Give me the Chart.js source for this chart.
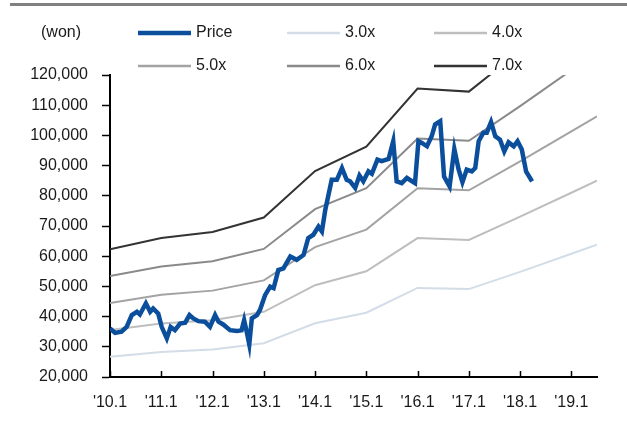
<!DOCTYPE html>
<html>
<head>
<meta charset="utf-8">
<script src="https://cdn.jsdelivr.net/npm/chart.js@4"></script>
<style>
  html, body { margin: 0; padding: 0; background: #fff; }
  #wrap { position: relative; width: 627px; height: 432px; }
  #topRule { position: absolute; left: 10px; right: 0; top: 3px; height: 3px; background: #808080; }
  canvas { position: absolute; left: 0; top: 0; }
</style>
</head>
<body>
<div id="wrap">
  <canvas id="bandChart" width="627" height="432"></canvas>
  <div id="topRule"></div>
</div>
<script>
// months counted from Jan 2010
const xTickMonths = [0, 12, 24, 36, 48, 60, 72, 84, 96, 108];
const xTickLabels = ["'10.1", "'11.1", "'12.1", "'13.1", "'14.1", "'15.1", "'16.1", "'17.1", "'18.1", "'19.1"];
const yTicks = [20000, 30000, 40000, 50000, 60000, 70000, 80000, 90000, 100000, 110000, 120000];

// band knots (yearly)
const bandMonths = [0, 12, 24, 36, 48, 60, 72, 84, 96, 108, 114];
const band3x = [26700, 28300, 29100, 31200, 37800, 41300, 49500, 49100, 54800, 60800, 63800];
const band4x = [35600, 37700, 38800, 41600, 50400, 55000, 66000, 65400, 73100, 81000, 85000];
const band5x = [44500, 47200, 48600, 52000, 63000, 68800, 82500, 81800, 91400, 101300, 106300];
const band6x = [53400, 56600, 58300, 62400, 75600, 82500, 99000, 98200, 109700, 121600, 127500];
const band7x = [62300, 66000, 68000, 72800, 88200, 96300, 115500, 114500, 128000, 141800, 148800];

// share price
const priceMonths = [0, 1.2, 2.7, 3.9, 5.1, 6.3, 7.0, 8.4, 9.4, 10.1, 11.3, 12.1, 13.3, 14.2, 15.2, 16.4, 17.6, 18.6, 19.5, 20.7,
  22.2, 23.4, 24.6, 25.4, 26.5, 28.1, 29.7, 30.8, 31.4, 32.0, 32.6, 33.2, 34.4, 35.1, 36.3, 37.5, 38.3, 39.4, 40.6, 42.2,
  43.7, 45.3, 46.4, 47.6, 48.8, 49.6, 50.4, 51.9, 53.1, 54.3, 55.4, 56.2, 57.4, 58.4, 59.3, 60.5, 61.3, 62.6, 63.6, 65.2,
  66.3, 67.1, 68.3, 69.5, 71.4, 72.2, 73.0, 74.2, 75.3, 76.1, 77.3, 78.2, 79.5, 80.6, 81.6, 82.5, 83.5, 84.7, 85.5, 86.3,
  87.4, 88.2, 89.2, 90.2, 91.3, 92.3, 93.3, 94.5, 95.4, 96.4, 97.4, 98.8];
const priceValues = [36100, 34600, 35000, 36600, 40500, 41600, 40700, 44400, 41600, 42700, 41000, 36600, 32800, 36600, 35500, 37700, 38000, 40500, 39400, 38500,
  38300, 36600, 40500, 38300, 37400, 35500, 35200, 35500, 38800, 35000, 30800, 39400, 40500, 42200, 47100, 49900, 49400, 55400, 56000, 59900,
  58800, 60400, 66000, 67100, 69800, 68200, 75400, 85300, 85300, 89200, 85300, 84800, 82600, 86700, 84800, 88100, 87300, 92000, 91500, 92200,
  98100, 84800, 84200, 85900, 84200, 98100, 97500, 96400, 99700, 103600, 104700, 86400, 83100, 95500, 88700, 84500, 88700, 88100, 89200, 98100,
  100900, 100900, 104400, 99700, 98600, 94700, 97700, 96400, 98100, 95300, 88100, 84800];

const toPoints = (xs, ys) => xs.map((x, i) => ({ x: x, y: ys[i] }));

const textColor = '#1a1a1a';
Chart.defaults.font.family = "'Liberation Sans', Arial, sans-serif";
Chart.defaults.font.size = 16;
Chart.defaults.color = textColor;

function band(label, ys, color) {
  return {
    label: label,
    data: toPoints(bandMonths, ys),
    borderColor: color,
    borderWidth: 2,
    pointRadius: 0,
    tension: 0,
    fill: false
  };
}

// legend grid + unit label + inner x ticks
const bandLegend = {
  id: 'bandLegend',
  afterDraw(chart) {
    const ctx = chart.ctx;
    const colX = [138, 287, 434];
    const rowY = [33, 66];
    ctx.save();
    ctx.font = "16px 'Liberation Sans', Arial, sans-serif";
    ctx.fillStyle = textColor;
    ctx.textBaseline = 'middle';
    ctx.textAlign = 'center';
    ctx.fillText('(won)', 61, 33);
    ctx.textAlign = 'left';
    chart.data.datasets.forEach((ds, i) => {
      const x0 = colX[i % 3];
      const y = rowY[Math.floor(i / 3)];
      ctx.strokeStyle = ds.borderColor;
      ctx.lineWidth = i === 0 ? 4.5 : 2.5;
      ctx.beginPath();
      ctx.moveTo(x0, y);
      ctx.lineTo(x0 + 53, y);
      ctx.stroke();
      ctx.fillStyle = textColor;
      ctx.fillText(ds.label, x0 + 58, y);
    });
    // x ticks point up into the plot
    const xs = chart.scales.x;
    const bottom = chart.chartArea.bottom;
    ctx.strokeStyle = '#000';
    ctx.lineWidth = 1.5;
    xTickMonths.forEach(m => {
      const px = Math.round(xs.getPixelForValue(m)) + 0.5;
      ctx.beginPath();
      ctx.moveTo(px, bottom);
      ctx.lineTo(px, bottom - 6);
      ctx.stroke();
    });
    ctx.restore();
  }
};

new Chart(document.getElementById('bandChart').getContext('2d'), {
  type: 'line',
  data: {
    datasets: [
      {
        label: 'Price',
        data: toPoints(priceMonths, priceValues),
        borderColor: '#0b4f9c',
        borderWidth: 4.5,
        pointRadius: 0,
        tension: 0,
        fill: false
      },
      band('3.0x', band3x, '#d3dde8'),
      band('4.0x', band4x, '#bebebe'),
      band('5.0x', band5x, '#a3a3a3'),
      band('6.0x', band6x, '#8a8a8a'),
      band('7.0x', band7x, '#333333')
    ]
  },
  options: {
    responsive: false,
    animation: false,
    layout: { padding: { top: 75, right: 30, bottom: 0, left: 0 } },
    plugins: { legend: { display: false }, tooltip: { enabled: false } },
    scales: {
      x: {
        type: 'linear',
        min: 0,
        max: 114,
        afterFit: s => { s.height = 55; },
        afterBuildTicks: s => { s.ticks = xTickMonths.map(v => ({ value: v })); },
        grid: { display: true, drawOnChartArea: false, drawTicks: false },
        border: { display: true, color: '#000', width: 2 },
        ticks: {
          padding: 16,
          maxRotation: 0,
          autoSkip: false,
          callback: v => xTickLabels[xTickMonths.indexOf(v)]
        }
      },
      y: {
        min: 20000,
        max: 120000,
        afterFit: s => { s.width = 110; },
        afterBuildTicks: s => { s.ticks = yTicks.map(v => ({ value: v })); },
        grid: { drawOnChartArea: false, drawTicks: true, tickLength: 8, tickColor: '#000', tickWidth: 1.5 },
        border: { display: true, color: '#000', width: 2 },
        ticks: {
          padding: 14,
          callback: v => v.toLocaleString('en-US')
        }
      }
    }
  },
  plugins: [bandLegend]
});
</script>
</body>
</html>
